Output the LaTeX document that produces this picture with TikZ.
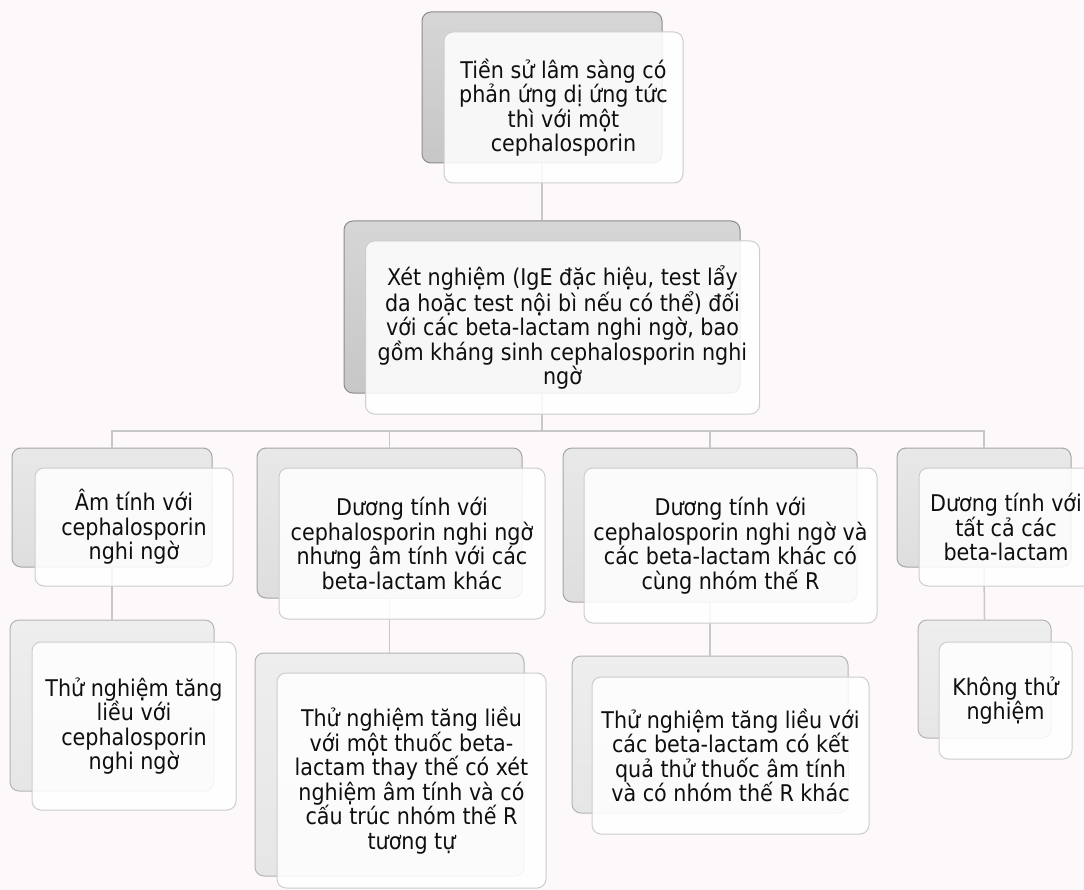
\documentclass[tikz,border=0pt]{standalone}
\usepackage{fontspec}
\setmainfont{DejaVu Sans Condensed}
\definecolor{pagebg}{RGB}{253,249,250}
\definecolor{linkgray}{RGB}{200,200,200}
\definecolor{textblack}{RGB}{15,15,15}
\tikzset{
	backbox/.style={rounded corners=9pt, line width=1pt, inner sep=0pt},
	frontbox/.style={rounded corners=9pt, line width=1pt, inner sep=0pt, draw={rgb,255:red,205;green,205;blue,205},
		fill=white, fill opacity=0.86, text opacity=1, text=textblack, align=center},
	toplevel/.style={draw={rgb,255:red,140;green,140;blue,140}, top color={rgb,255:red,214;green,214;blue,214}, bottom color={rgb,255:red,199;green,199;blue,199}},
	midlevel/.style={draw={rgb,255:red,165;green,165;blue,165}, top color={rgb,255:red,232;green,232;blue,232}, bottom color={rgb,255:red,222;green,222;blue,222}},
	lowlevel/.style={draw={rgb,255:red,180;green,180;blue,180}, top color={rgb,255:red,238;green,238;blue,238}, bottom color={rgb,255:red,230;green,230;blue,230}},
	link/.style={linkgray, line width=1.5pt}
}

\begin{document}
\begin{tikzpicture}[x=1pt,y=-1pt]
		\tikzstyle{every node}=[font=\fontsize{23}{24.5}\selectfont]
		% Draw page background
		\fill[pagebg] (0,0) rectangle (1084,890);
		\useasboundingbox (0,0) rectangle (1084,890);
		\clip (0,0) rectangle (1084,890);

		% Draw back boxes
		\node[backbox, toplevel, minimum width=240, minimum height=151] (b0) at (542,87.5) {};
		\node[backbox, toplevel, minimum width=396, minimum height=172] (b1) at (542,307) {};

		\node[backbox, midlevel, minimum width=200, minimum height=119] (b2a) at (112,507.5) {};
		\node[backbox, midlevel, minimum width=265, minimum height=150] (b2b) at (389.5,523) {};
		\node[backbox, midlevel, minimum width=294, minimum height=154] (b2c) at (710,525) {};
		\node[backbox, midlevel, minimum width=174, minimum height=119] (b2d) at (984,507.5) {};

		\node[backbox, lowlevel, minimum width=204, minimum height=171] (b3a) at (112,705.5) {};
		\node[backbox, lowlevel, minimum width=269, minimum height=223] (b3b) at (389.5,764.5) {};
		\node[backbox, lowlevel, minimum width=276, minimum height=157] (b3c) at (710,734.5) {};
		\node[backbox, lowlevel, minimum width=133, minimum height=118] (b3d) at (984.5,679) {};

		% -----------------------------------------------------
		% connectors
		\coordinate (bus) at (542,431);
		\draw[link] (b0.south) -- (b1.north);
		\draw[link] (b1.south) -- (bus);
		\draw[link] (b2a.north) |- (bus) -| (b2d.north);
		\draw[link] (b2b.north) -- (b2b.north |- bus);
		\draw[link] (b2c.north) -- (b2c.north |- bus);

		\draw[link] (b2a.south) -- (b3a.north);
		\draw[link] (b2b.south) -- (b3b.north);
		\draw[link] (b2c.south) -- (b3c.north);
		\draw[link] (b2d.south) -- (b3d.north);

		% -----------------------------------------------------
		% front boxes with text
		\node[frontbox, minimum width=239, minimum height=151] (f0) at (563.5,107.5)
			{Tiền sử lâm sàng có\\phản ứng dị ứng tức\\thì với một\\cephalosporin};
		\node[frontbox, minimum width=394, minimum height=173] (f1) at (562.5,327.5)
			{Xét nghiệm (IgE đặc hiệu, test lẩy\\da hoặc test nội bì nếu có thể) đối\\với các beta-lactam nghi ngờ, bao\\gồm kháng sinh cephalosporin nghi\\ngờ};

		\node[frontbox, minimum width=198, minimum height=118] (f2a) at (134,527)
			{Âm tính với\\cephalosporin\\nghi ngờ};
		\node[frontbox, minimum width=266, minimum height=151] (f2b) at (412,543.5)
			{Dương tính với\\cephalosporin nghi ngờ\\nhưng âm tính với các\\beta-lactam khác};
		\node[frontbox, minimum width=293, minimum height=155] (f2c) at (730.5,545.5)
			{Dương tính với\\cephalosporin nghi ngờ và\\các beta-lactam khác có\\cùng nhóm thế R};
		\node[frontbox, minimum width=174, minimum height=118] (f2d) at (1006,527)
			{Dương tính với\\tất cả các\\beta-lactam};

		\node[frontbox, minimum width=204, minimum height=168] (f3a) at (134,726)
			{Thử nghiệm tăng\\liều với\\cephalosporin\\nghi ngờ};
		\node[frontbox, minimum width=269, minimum height=215] (f3b) at (411.5,780.5)
			{Thử nghiệm tăng liều\\với một thuốc beta-\\lactam thay thế có xét\\nghiệm âm tính và có\\cấu trúc nhóm thế R\\tương tự};
		\node[frontbox, minimum width=277, minimum height=157] (f3c) at (730.5,755.5)
			{Thử nghiệm tăng liều với\\các beta-lactam có kết\\quả thử thuốc âm tính\\và có nhóm thế R khác};
		\node[frontbox, minimum width=133, minimum height=117] (f3d) at (1005.5,700.5)
			{Không thử\\nghiệm};

\end{tikzpicture}
\end{document}
